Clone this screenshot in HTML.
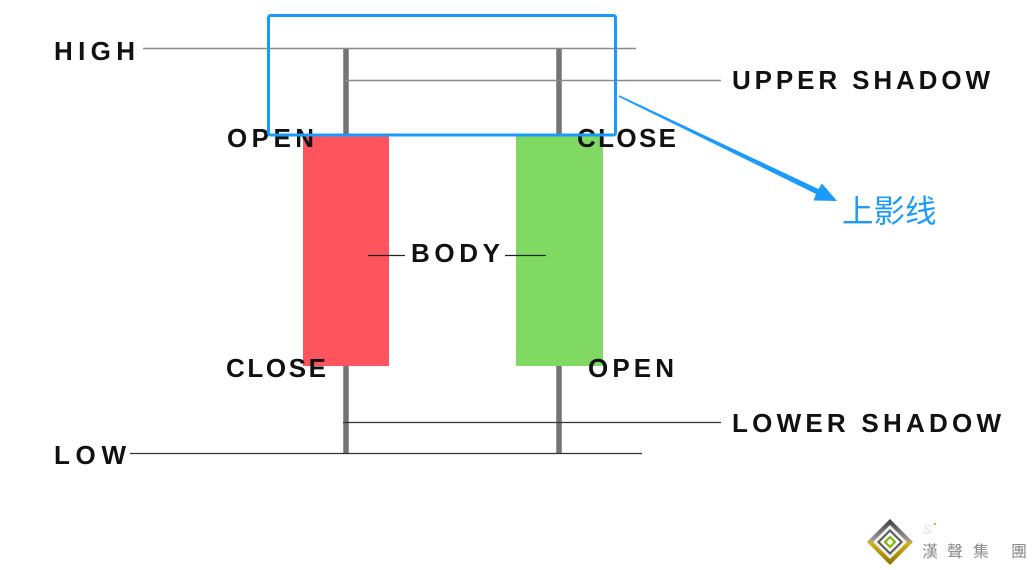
<!DOCTYPE html>
<html>
<head>
<meta charset="utf-8">
<style>
  html, body { margin: 0; padding: 0; background: #ffffff; }
  body { width: 1032px; height: 570px; overflow: hidden; }
  svg { display: block; }
  .lbl { font-family: "Liberation Sans", Arial, sans-serif; font-weight: bold; font-size: 26px; fill: #111111; }
</style>
</head>
<body>
<svg width="1032" height="570" viewBox="0 0 1032 570" xmlns="http://www.w3.org/2000/svg">
  <defs>
    <linearGradient id="dg" x1="0" y1="0" x2="0" y2="1">
      <stop offset="0" stop-color="#3a3a3a"/>
      <stop offset="0.45" stop-color="#9a9a9a"/>
      <stop offset="0.52" stop-color="#d4b21a"/>
      <stop offset="1" stop-color="#8a6e00"/>
    </linearGradient>
  </defs>

  <!-- wicks -->
  <line x1="346" y1="48" x2="346" y2="453" stroke="#747474" stroke-width="5.5"/>
  <line x1="559" y1="48" x2="559" y2="453" stroke="#747474" stroke-width="5.5"/>

  <!-- bodies -->
  <rect x="303" y="136" width="86" height="230" fill="#fe545d"/>
  <rect x="516" y="136" width="87" height="230" fill="#80d962"/>

  <!-- guide lines -->
  <line x1="143" y1="48.5" x2="636" y2="48.5" stroke="#8a8a8a" stroke-width="1.5"/>
  <line x1="345" y1="80.5" x2="721" y2="80.5" stroke="#8a8a8a" stroke-width="1.5"/>
  <line x1="368" y1="255.5" x2="405" y2="255.5" stroke="#222" stroke-width="1.3"/>
  <line x1="505" y1="255.5" x2="546" y2="255.5" stroke="#222" stroke-width="1.3"/>
  <line x1="343" y1="422.5" x2="721" y2="422.5" stroke="#333" stroke-width="1.3"/>
  <line x1="130" y1="453.5" x2="642" y2="453.5" stroke="#333" stroke-width="1.3"/>

  <!-- labels -->
  <text class="lbl" x="54" y="60" textLength="81" lengthAdjust="spacing">HIGH</text>
  <text class="lbl" x="732" y="89" textLength="258" lengthAdjust="spacing">UPPER SHADOW</text>
  <text class="lbl" x="227" y="147" textLength="87" lengthAdjust="spacing">OPEN</text>
  <text class="lbl" x="577" y="147" textLength="99" lengthAdjust="spacing">CLOSE</text>
  <text class="lbl" x="411" y="262" textLength="89" lengthAdjust="spacing">BODY</text>
  <text class="lbl" x="226" y="377" textLength="100" lengthAdjust="spacing">CLOSE</text>
  <text class="lbl" x="588" y="377" textLength="86" lengthAdjust="spacing">OPEN</text>
  <text class="lbl" x="732" y="432" textLength="269" lengthAdjust="spacing">LOWER SHADOW</text>
  <text class="lbl" x="54" y="464" textLength="72" lengthAdjust="spacing">LOW</text>

  <!-- blue highlight box -->
  <rect x="268.5" y="15.5" width="347" height="119.5" rx="2" ry="2" fill="none" stroke="#1a9bfc" stroke-width="3"/>

  <!-- arrow -->
  <polygon points="619.3,95.2 818.4,189 822,183.5 837,201 813.5,200.5 816,194 618.7,96.8" fill="#1a9bfc"/>

  <!-- chinese annotation -->
  <text x="842" y="222" font-family="'Liberation Sans', 'Noto Sans CJK SC', sans-serif" font-size="31.5" fill="#1f9bf7">上影线</text>

  <!-- logo -->
  <polygon points="890,519 913,542 890,565 867,542" fill="url(#dg)"/>
  <polygon points="890,525 907,542 890,559 873,542" fill="#eeeeee"/>
  <polygon points="890,529 903,542 890,555 877,542" fill="#5a5a5a"/>
  <polygon points="890,532 900,542 890,552 880,542" fill="#ffffff"/>
  <polygon points="890,537 895,542 890,547 885,542" fill="#ffffff" stroke="#7ab800" stroke-width="2.2"/>
  <text x="923" y="534" font-family="'Liberation Sans', sans-serif" font-style="italic" font-size="13" fill="#dddddd">S</text>
  <circle cx="935" cy="524" r="1.2" fill="#9acd32"/>
  <text font-family="'Liberation Sans', 'Noto Sans CJK TC', sans-serif" font-size="16" fill="#8a8a8a">
    <tspan x="922" y="557">漢</tspan>
    <tspan x="947" y="557">聲</tspan>
    <tspan x="973" y="557">集</tspan>
    <tspan x="1011" y="557">團</tspan>
  </text>
</svg>
</body>
</html>
